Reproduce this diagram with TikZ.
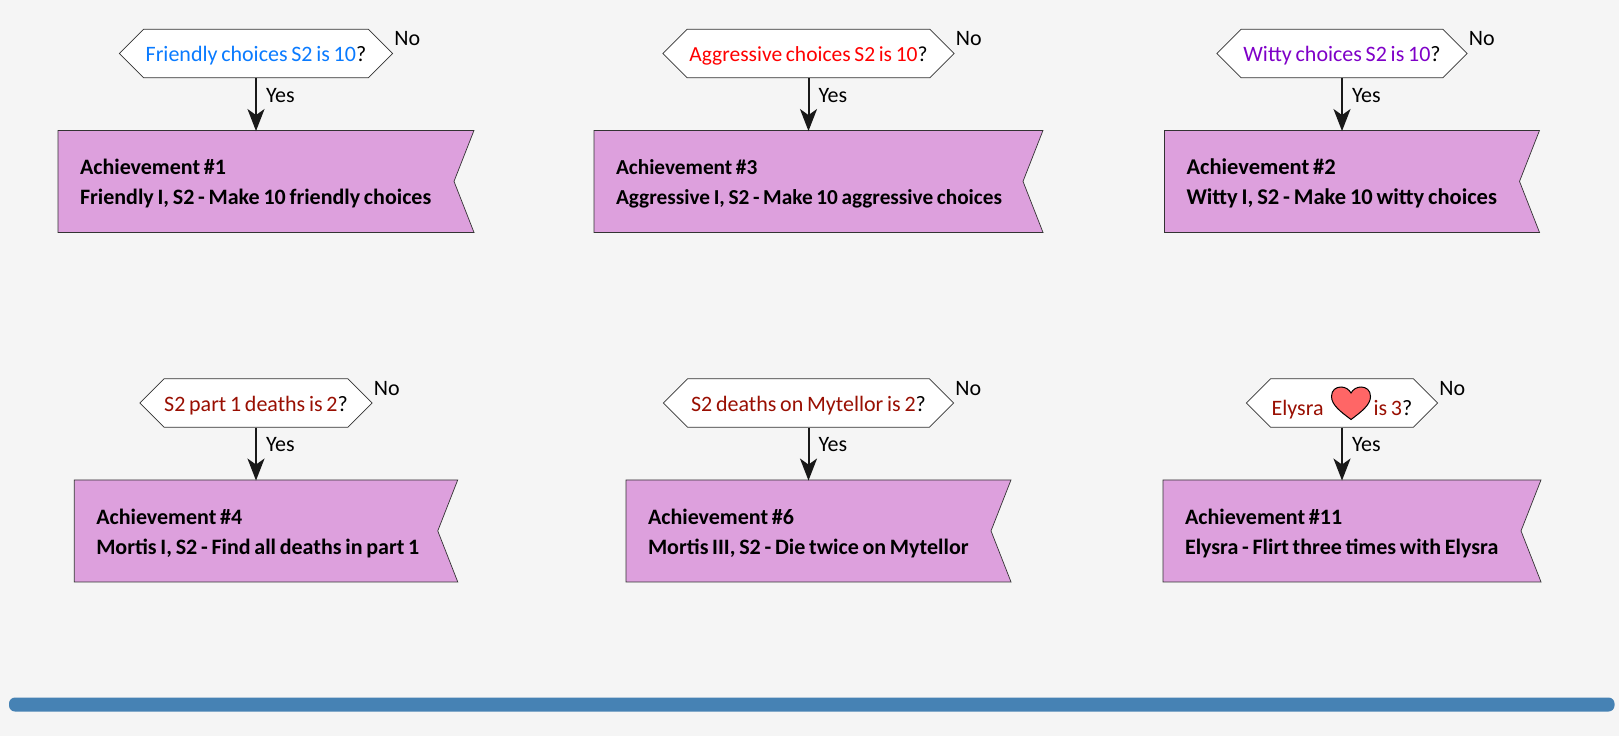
\documentclass[tikz,border=0pt]{standalone}
\usepackage{fontspec}
\setmainfont{Carlito}
\usetikzlibrary{positioning,shapes.symbols,arrows.meta}
\definecolor{pagebg}{HTML}{F5F5F5}
\definecolor{flagfill}{HTML}{DDA0DD}
\definecolor{barblue}{HTML}{4682B4}
\definecolor{friendly}{HTML}{0A7BFF}
\definecolor{aggressive}{HTML}{FF0000}
\definecolor{witty}{HTML}{7F00C8}
\definecolor{deaths}{HTML}{990F02}
\begin{document}
\begin{tikzpicture}[x=1pt,y=-1pt,
question/.style={draw=black!80, fill=white, line width=0.7pt, shape=signal, signal to=west and east, signal pointer angle=90, inner xsep=0pt, inner ysep=0pt, minimum height=48.4pt, text height=20pt, align=center, font=\fontsize{22}{24}\selectfont, execute at begin node={\spaceskip=.17em\relax}},
flag/.style={draw=black!80, fill=flagfill, line width=0.7pt, shape=signal, signal from=east, signal to=nowhere, signal pointer angle=137.2, inner xsep=22pt, inner ysep=0pt, minimum height=102pt, text height=20pt, align=left, font=\fontsize{22}{30}\selectfont\bfseries, execute at begin node={\spaceskip=.17em\relax}},
answer/.style={inner sep=0pt, font=\fontsize{22}{24}\selectfont},
yes/.style={-{Stealth[length=22pt,width=17pt,inset=6pt]}, draw=black!90, line width=2pt, shorten >=-1pt}]
\useasboundingbox (0,0) rectangle (1619,736);
\fill[pagebg] (0,0) rectangle (1619,736);
% top row
\node[question, text width=225pt] (q1) at (256,53.5) {\textcolor{friendly}{Friendly choices S2 is 10}?};
\node[flag, text width=352pt, below=52pt of q1] (a1) {Achievement \#1\\\mbox{Friendly I, S2 - Make 10 friendly choices}};
\draw[yes] (q1.south) -- node[answer, pos=.33, right=9pt] (y1) {Yes} (a1.north);
\node[answer, right=1pt of q1.east, yshift=14.5pt] (n1) {No};
\node[question, text width=243pt, font=\fontsize{21.5}{24}\selectfont] (q3) at (808.5,53.5) {\textcolor{aggressive}{Aggressive choices S2 is 10}?};
\node[flag, text width=385pt, font=\fontsize{21.3}{30}\selectfont\bfseries, below=52pt of q3] (a3) {Achievement \#3\\\mbox{Aggressive I, S2 - Make 10 aggressive choices}};
\draw[yes] (q3.south) -- node[answer, pos=.33, right=9pt] (y3) {Yes} (a3.north);
\node[answer, right=1pt of q3.east, yshift=14.5pt] (n3) {No};
\node[question, text width=202pt] (q2) at (1342,53.5) {\textcolor{witty}{Witty choices S2 is 10}?};
\node[flag, text width=311pt, font=\fontsize{22.5}{30}\selectfont\bfseries, below=52pt of q2] (a2) {Achievement \#2\\\mbox{Witty I, S2 - Make 10 witty choices}};
\draw[yes] (q2.south) -- node[answer, pos=.33, right=9pt] (y2) {Yes} (a2.north);
\node[answer, right=1pt of q2.east, yshift=14.5pt] (n2) {No};
% bottom row
\node[question, text width=184pt] (q4) at (256,403) {\textcolor{deaths}{S2 part 1 deaths is 2}?};
\node[flag, text width=319.5pt, below=52pt of q4] (a4) {Achievement \#4\\\mbox{Mortis I, S2 - Find all deaths in part 1}};
\draw[yes] (q4.south) -- node[answer, pos=.33, right=9pt] (y4) {Yes} (a4.north);
\node[answer, right=1pt of q4.east, yshift=14.5pt] (n4) {No};
\node[question, text width=242pt] (q6) at (808.5,403) {\textcolor{deaths}{S2 deaths on Mytellor is 2}?};
\node[flag, text width=321pt, below=52pt of q6] (a6) {Achievement \#6\\\mbox{Mortis III, S2 - Die twice on Mytellor}};
\draw[yes] (q6.south) -- node[answer, pos=.33, right=9pt] (y6) {Yes} (a6.north);
\node[answer, right=1pt of q6.east, yshift=14.5pt] (n6) {No};
\node[question, text width=143pt] (q11) at (1342,403) {\raisebox{-8pt}{\textcolor{deaths}{Elysra\hspace{50pt}is 3}?}};
\node[flag, text width=314pt, below=52pt of q11] (a11) {Achievement \#11\\\mbox{Elysra - Flirt three times with Elysra}};
\draw[yes] (q11.south) -- node[answer, pos=.33, right=9pt] (y11) {Yes} (a11.north);
\node[answer, right=1pt of q11.east, yshift=14.5pt] (n11) {No};
% heart
\draw[fill=red!60!white, draw=black, line width=1pt] (1351,419.5) .. controls (1341,412) and (1331.5,405) .. (1331.5,396.5) .. controls (1331.5,390) and (1336,387) .. (1341,387) .. controls (1345.5,387) and (1349,389.5) .. (1351,393) .. controls (1353,389.5) and (1356.5,387) .. (1361,387) .. controls (1366,387) and (1370.5,390) .. (1370.5,396.5) .. controls (1370.5,405) and (1361,412) .. (1351,419.5) -- cycle;
% bar
\fill[barblue, rounded corners=6pt] (9,697.5) rectangle (1614.5,711.5);
\end{tikzpicture}
\end{document}
